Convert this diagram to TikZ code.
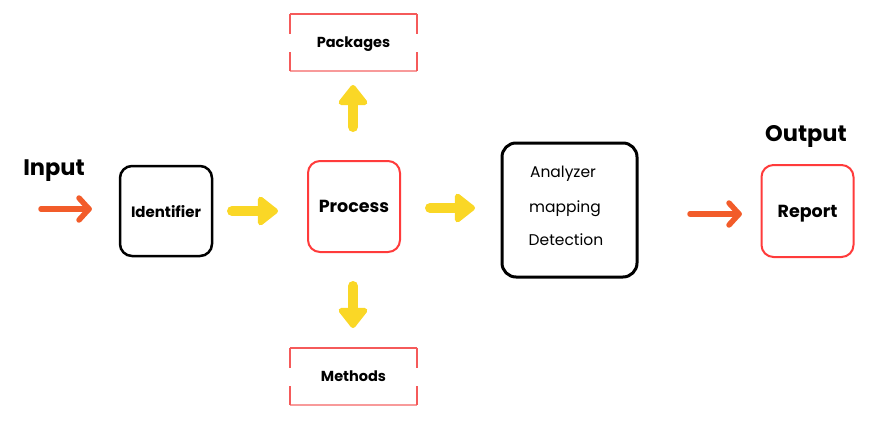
\documentclass[tikz,border=0pt]{standalone}
\usepackage{fontspec}
\setmainfont{Poppins}
\usetikzlibrary{arrows.meta,calc}
\definecolor{yarrow}{HTML}{FAD726}
\definecolor{oarrow}{HTML}{F25C2A}
\definecolor{boxred}{HTML}{FF3B3B}
\definecolor{pkred}{HTML}{F55A5A}
\definecolor{pkredlight}{HTML}{F89A9A}
\tikzset{
  blackbox/.style={draw=black, line width=2.5pt, rounded corners=12pt, minimum width=92pt, minimum height=90pt, inner sep=0pt, text depth=0pt, font=\bfseries\fontsize{15}{18}\selectfont},
  redbox/.style={draw=boxred, line width=2pt, rounded corners=12pt, minimum width=92pt, minimum height=91pt, inner sep=0pt, text depth=0pt, font=\bfseries\fontsize{17.5}{21}\selectfont},
  openbox/.style={minimum width=127pt, minimum height=57pt, inner sep=0pt, text depth=0pt, font=\bfseries\fontsize{14.5}{17}\selectfont},
  boxedge/.style={draw=pkred, line width=1.6pt},
  boxedgelow/.style={draw=pkredlight, line width=1.6pt},
  title/.style={inner sep=0pt, text depth=0pt, font=\bfseries\fontsize{22.5}{27}\selectfont},
  yarr/.style={draw=yarrow, fill=yarrow, line width=10pt, line cap=round, -{Triangle[length=22pt,width=33pt,round]}},
  oshaft/.style={draw=oarrow, line width=5.5pt, line cap=round, line join=round},
  smalltext/.style={inner sep=0pt, text depth=0pt, font=\fontsize{15.5}{18}\selectfont},
}
\begin{document}
\begin{tikzpicture}[x=1pt,y=-1pt]
\useasboundingbox (0,0) rectangle (870,428);
% titles
\node[title] (input) at (54,168) {Input};
\node[title] (output) at (806,133.5) {Output};
% boxes
\node[blackbox] (ident) at (166,211) {Identifier};
\node[redbox] (process) at (354,206.5) {Process};
\node[redbox, minimum height=92pt] (report) at (807.5,211) {Report};
\node[draw=black, line width=3pt, rounded corners=14pt, minimum width=135pt, minimum height=134pt] (analyzer) at (569.5,210) {};
\node[smalltext] (t1) at (563,171.5) {Analyzer};
\node[smalltext] (t2) at (565,207) {mapping};
\node[smalltext] (t3) at (566,240) {Detection};
% open boxes
\node[openbox] (pack) at (353.5,42.5) {Packages};
\node[openbox] (meth) at (353.5,376.5) {Methods};
\draw[boxedge] (pack.north west) -- (pack.north east);
\draw[boxedgelow] (pack.south west) -- (pack.south east);
\draw[boxedge] (pack.north west) -- ++(0,20);
\draw[boxedge] (pack.north east) -- ++(0,20);
\draw[boxedge] (pack.south west) -- ++(0,-19);
\draw[boxedge] (pack.south east) -- ++(0,-19);
\draw[boxedge] (meth.north west) -- (meth.north east);
\draw[boxedgelow] (meth.south west) -- (meth.south east);
\draw[boxedge] (meth.north west) -- ++(0,20);
\draw[boxedge] (meth.north east) -- ++(0,20);
\draw[boxedge] (meth.south west) -- ++(0,-19);
\draw[boxedge] (meth.south east) -- ++(0,-19);
% yellow arrows
\coordinate (a1s) at (232,211);
\coordinate (a1e) at (278,211);
\coordinate (a2s) at (430,208);
\coordinate (a2e) at (475,208);
\coordinate (a3s) at (353,127);
\coordinate (a3e) at (353,85);
\coordinate (a4s) at (353,286);
\coordinate (a4e) at (353,328);
\draw[yarr] (a1s) -- (a1e);
\draw[yarr] (a2s) -- (a2e);
\draw[yarr] (a3s) -- (a3e);
\draw[yarr] (a4s) -- (a4e);
% orange arrows
\coordinate (o1s) at (41,209);
\coordinate (o1e) at (89,209);
\coordinate (o2s) at (690,214);
\coordinate (o2e) at (739,214);
\draw[oshaft] (o1s) -- (o1e);
\draw[oshaft] ($(o1e)+(-10,-11)$) -- (o1e) -- ($(o1e)+(-10,11)$);
\draw[oshaft] (o2s) -- (o2e);
\draw[oshaft] ($(o2e)+(-10,-11)$) -- (o2e) -- ($(o2e)+(-10,11)$);
\end{tikzpicture}
\end{document}
